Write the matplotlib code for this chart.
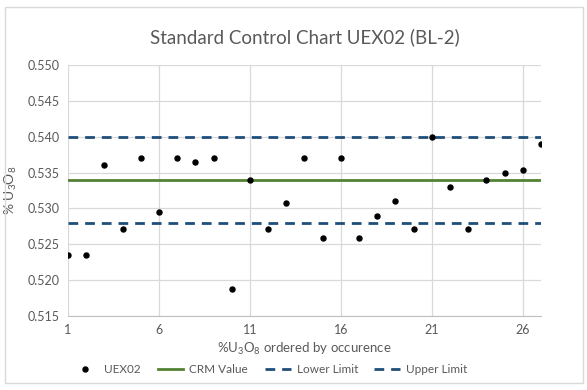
import matplotlib
matplotlib.use('Agg')
import matplotlib.pyplot as plt
from matplotlib.patches import Rectangle

plt.rcParams['font.family'] = ['Lato', 'DejaVu Sans']
plt.rcParams['mathtext.fontset'] = 'custom'
plt.rcParams['mathtext.rm'] = 'Lato'
plt.rcParams['mathtext.it'] = 'Lato'
plt.rcParams['mathtext.default'] = 'regular'

# data
sample_no = list(range(1, 28))
uex02 = [0.5235, 0.5235, 0.5360, 0.5271, 0.5370, 0.5295, 0.5370, 0.5365, 0.5370,
         0.5188, 0.5340, 0.5271, 0.5307, 0.5370, 0.5259, 0.5370, 0.5259, 0.5289,
         0.5310, 0.5271, 0.5400, 0.5330, 0.5271, 0.5340, 0.5350, 0.5354, 0.5390]
crm_value = 0.534
lower_limit = 0.528
upper_limit = 0.540
x_ticks = [1, 6, 11, 16, 21, 26]
y_ticks = [0.515, 0.520, 0.525, 0.530, 0.535, 0.540, 0.545, 0.550]

grey = '#595959'
blue = '#1F4E79'
green = '#548235'

fig = plt.figure(figsize=(5.87, 3.90), dpi=100)
ax = fig.add_axes([0.1158, 0.1897, 0.8058, 0.6436])

ax.plot(sample_no, uex02, 'o', color='black', markersize=3.6, label='UEX02', zorder=5)
ax.plot([sample_no[0], sample_no[-1]], [crm_value] * 2, color=green, lw=2, label='CRM Value')
ax.plot([sample_no[0], sample_no[-1]], [lower_limit] * 2, color=blue, lw=2,
        linestyle=(0, (3.5, 2.5)), label='Lower Limit')
ax.plot([sample_no[0], sample_no[-1]], [upper_limit] * 2, color=blue, lw=2,
        linestyle=(0, (3.5, 2.5)), label='Upper Limit')

ax.set_xlim(1, 27)
ax.set_ylim(0.515, 0.550)
ax.set_xticks(x_ticks)
ax.set_yticks(y_ticks)
ax.set_yticklabels([f'{v:.3f}' for v in y_ticks])
ax.grid(True, color='#d9d9d9', lw=0.9)
ax.set_axisbelow(True)
for s in ['top', 'right', 'left']:
    ax.spines[s].set_visible(False)
ax.spines['bottom'].set_color('#bfbfbf')
ax.tick_params(length=0, colors=grey, labelsize=9, pad=6)

ax.set_title('Standard Control Chart UEX02 (BL-2)', color=grey, fontsize=13.5, pad=16)
ax.set_xlabel('%U$_3$O$_8$ ordered by occurence', color=grey, fontsize=9.5, labelpad=3)
ax.set_ylabel('% U$_3$O$_8$', color=grey, fontsize=10, labelpad=6)

leg = fig.legend(loc='lower center', bbox_to_anchor=(0.46, 0.01), ncol=4, frameon=False,
                 fontsize=8.5, handlelength=2.2, handletextpad=0.5, columnspacing=1.4,
                 labelcolor=grey)

fig.patches.append(Rectangle((0.008, 0.018), 0.985, 0.965, transform=fig.transFigure,
                             fill=False, edgecolor='#d9d9d9', lw=1))

fig.savefig('out.png', dpi=100)
